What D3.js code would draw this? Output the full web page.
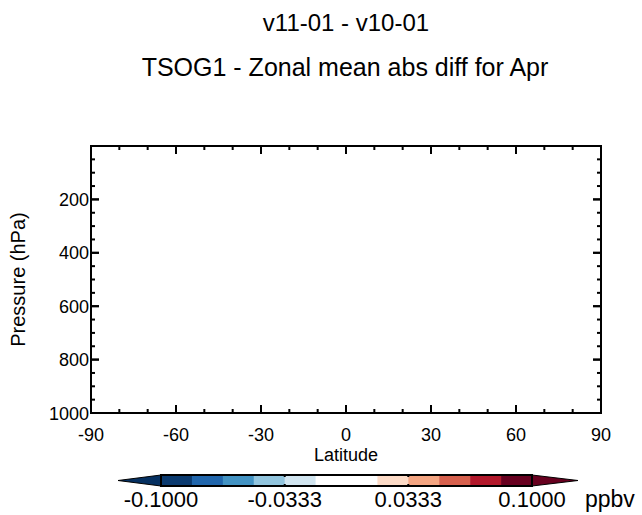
<!DOCTYPE html>
<html>
<head>
<meta charset="utf-8">
<script src="https://cdn.jsdelivr.net/npm/d3@7"></script>
<style>
  body { margin: 0; background: #fff; }
  text { font-family: "Liberation Sans", Arial, sans-serif; fill: #000; }
</style>
</head>
<body>
<div id="chart"></div>
<script>
// titles
const title1 = "v11-01 - v10-01"
const title2 = "TSOG1 - Zonal mean abs diff for Apr"

// axes
const latMajor = [-90, -60, -30, 0, 30, 60, 90]
const latMinor = d3.range(-90, 91, 10)
const presMajor = [200, 400, 600, 800, 1000]
const presMinor = d3.range(50, 1000, 50)

// colorbar levels and colours
const levels = d3.range(13).map(i => -0.1 + i * (0.2 / 12))
const cbLabels = [-0.1, -0.0333, 0.0333, 0.1]
const binColors = ["#0b3a6f", "#2166ac", "#4393c3", "#92c5de", "#d1e5f0", "#ffffff",
                   "#ffffff", "#fddbc7", "#f4a582", "#d6604d", "#b2182b", "#67001f"]
const lowColor = "#053061"
const highColor = "#67001f"
const units = "ppbv"

const width = 642
const height = 515
const margins = { top: 146, bottom: 102, left: 91, right: 41 }

const svg = d3.select("#chart")
    .append("svg")
    .attr("width", width)
    .attr("height", height)

const xScale = d3.scaleLinear()
    .domain([-90, 90])
    .range([margins.left, width - margins.right])

const yScale = d3.scaleLinear()
    .domain([0, 1000])
    .range([margins.top, height - margins.bottom])

const x0 = xScale.range()[0], x1 = xScale.range()[1]
const y0 = yScale.range()[0], y1 = yScale.range()[1]

// titles
svg.append("text")
    .attr("x", 346).attr("y", 31)
    .attr("text-anchor", "middle")
    .style("font-size", "24px")
    .text(title1)

svg.append("text")
    .attr("x", 345).attr("y", 76)
    .attr("text-anchor", "middle")
    .style("font-size", "25px")
    .text(title2)

// ticks, inward on all four sides
const ticks = svg.append("g").attr("stroke", "#000").attr("stroke-width", 2)

latMinor.forEach(d => {
    const len = latMajor.includes(d) ? 8 : 4
    ticks.append("line").attr("x1", xScale(d)).attr("x2", xScale(d)).attr("y1", y1).attr("y2", y1 - len)
    ticks.append("line").attr("x1", xScale(d)).attr("x2", xScale(d)).attr("y1", y0).attr("y2", y0 + len)
})

presMinor.concat(presMajor).forEach(d => {
    const len = presMajor.includes(d) ? 8 : 4
    ticks.append("line").attr("y1", yScale(d)).attr("y2", yScale(d)).attr("x1", x0).attr("x2", x0 + len)
    ticks.append("line").attr("y1", yScale(d)).attr("y2", yScale(d)).attr("x1", x1).attr("x2", x1 - len)
})

// frame
svg.append("rect")
    .attr("x", x0).attr("y", y0)
    .attr("width", x1 - x0).attr("height", y1 - y0)
    .attr("fill", "none")
    .attr("stroke", "#000")
    .attr("stroke-width", 2)

// tick labels
svg.selectAll("text.xtick")
    .data(latMajor)
    .join("text")
    .attr("class", "xtick")
    .attr("x", d => xScale(d))
    .attr("y", y1 + 28)
    .attr("text-anchor", "middle")
    .style("font-size", "18px")
    .text(d => d)

svg.selectAll("text.ytick")
    .data(presMajor)
    .join("text")
    .attr("class", "ytick")
    .attr("x", x0 - 2)
    .attr("y", d => yScale(d) + 6.5)
    .attr("text-anchor", "end")
    .style("font-size", "18px")
    .text(d => d)

svg.append("text")
    .attr("x", xScale(0)).attr("y", y1 + 48)
    .attr("text-anchor", "middle")
    .style("font-size", "18px")
    .text("Latitude")

svg.append("text")
    .attr("transform", `translate(25, ${(y0 + y1) / 2}) rotate(-90)`)
    .attr("text-anchor", "middle")
    .style("font-size", "20px")
    .text("Pressure (hPa)")

// colorbar
const cbX = d3.scaleLinear()
    .domain([-0.1, 0.1])
    .range([161, 532])
const cbTop = 475, cbBot = 486, cbMid = (cbTop + cbBot) / 2

const cb = svg.append("g")

cb.append("path")
    .attr("d", `M${cbX(-0.1)},${cbTop} L118,${cbMid} L${cbX(-0.1)},${cbBot} Z`)
    .attr("fill", lowColor).attr("stroke", "#000").attr("stroke-width", 1)
cb.append("path")
    .attr("d", `M${cbX(0.1)},${cbTop} L578,${cbMid} L${cbX(0.1)},${cbBot} Z`)
    .attr("fill", highColor).attr("stroke", "#000").attr("stroke-width", 1)

cb.selectAll("rect.bin")
    .data(binColors)
    .join("rect")
    .attr("class", "bin")
    .attr("x", (d, i) => cbX(levels[i]))
    .attr("width", (d, i) => cbX(levels[i + 1]) - cbX(levels[i]) + 0.5)
    .attr("y", cbTop)
    .attr("height", cbBot - cbTop)
    .attr("fill", d => d)

cb.append("rect")
    .attr("x", cbX(-0.1)).attr("y", cbTop)
    .attr("width", cbX(0.1) - cbX(-0.1)).attr("height", cbBot - cbTop)
    .attr("fill", "none").attr("stroke", "#000").attr("stroke-width", 2)

cbLabels.forEach(d => {
    cb.append("line").attr("x1", cbX(d)).attr("x2", cbX(d)).attr("y1", cbTop).attr("y2", cbTop + 2)
        .attr("stroke", "#000").attr("stroke-width", 2)
    cb.append("line").attr("x1", cbX(d)).attr("x2", cbX(d)).attr("y1", cbBot).attr("y2", cbBot - 2)
        .attr("stroke", "#000").attr("stroke-width", 2)
})

cb.selectAll("text.cblabel")
    .data(cbLabels)
    .join("text")
    .attr("class", "cblabel")
    .attr("x", d => cbX(d))
    .attr("y", 507)
    .attr("text-anchor", "middle")
    .style("font-size", "22px")
    .text(d => d3.format(".4f")(d).replace("\u2212", "-"))

cb.append("text")
    .attr("x", 585).attr("y", 507)
    .style("font-size", "23px")
    .text(units)
</script>
</body>
</html>
